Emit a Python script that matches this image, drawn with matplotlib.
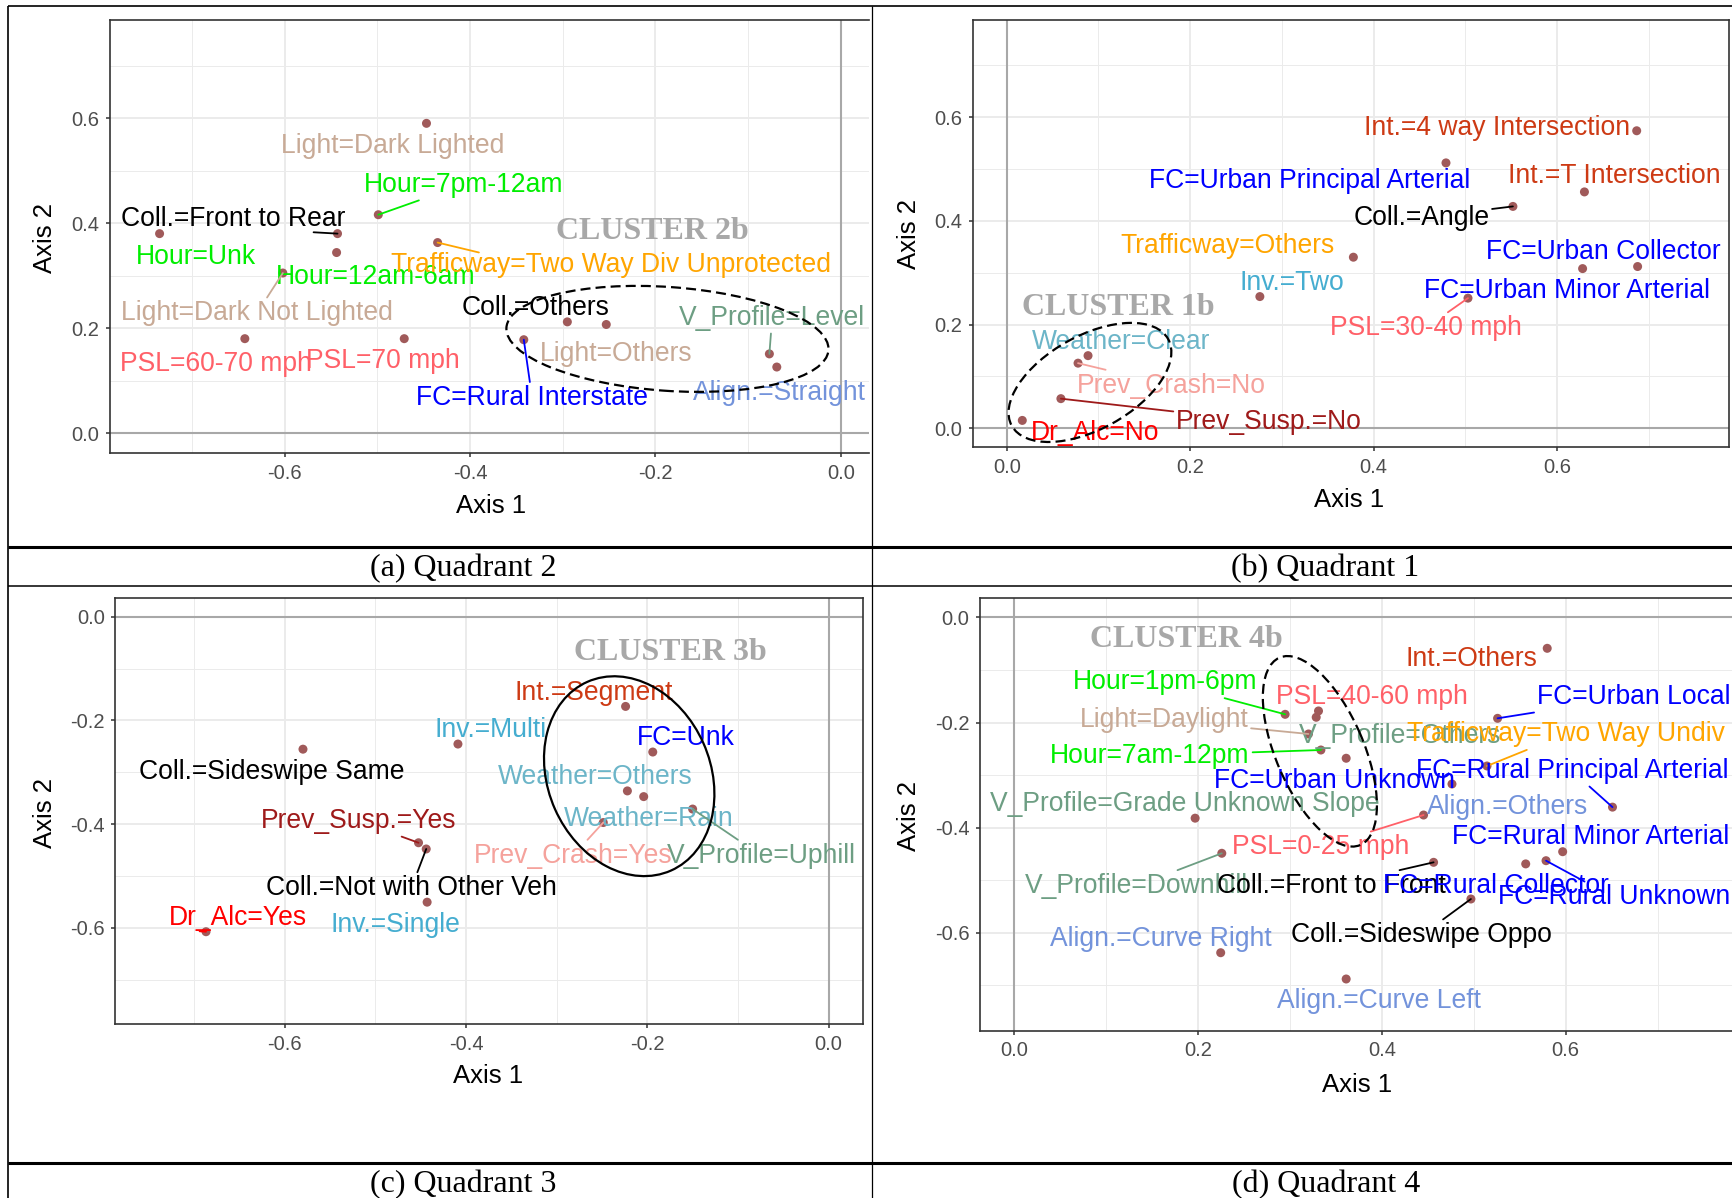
import matplotlib
matplotlib.use('Agg')
import matplotlib.pyplot as plt
import matplotlib.transforms as mtransforms
from matplotlib.patches import Ellipse
from matplotlib.lines import Line2D

# ---------------------------------------------------------------- data
# (a) Quadrant 2
a_labels = ["Light=Dark Lighted", "Hour=7pm-12am", "Coll.=Front to Rear", "Hour=Unk", "Hour=12am-6am",
            "Trafficway=Two Way Div Unprotected", "Light=Dark Not Lighted", "Coll.=Others", "Light=Others",
            "V_Profile=Level", "PSL=60-70 mph", "PSL=70 mph", "FC=Rural Interstate", "Align.=Straight"]
a_x = [-0.447, -0.499, -0.543, -0.735, -0.544, -0.435, -0.602, -0.295, -0.253, -0.077, -0.643, -0.471, -0.342, -0.069]
a_y = [0.590, 0.416, 0.380, 0.380, 0.344, 0.363, 0.305, 0.212, 0.207, 0.151, 0.180, 0.180, 0.178, 0.126]
a_lab_x = [-0.483, -0.407, -0.656, -0.696, -0.502, -0.248, -0.630, -0.329, -0.242, -0.074, -0.674, -0.494, -0.333, -0.066]
a_lab_y = [0.551, 0.478, 0.412, 0.341, 0.303, 0.324, 0.233, 0.243, 0.155, 0.2245, 0.137, 0.1415, 0.072, 0.082]
# leader segments: label -> None (clip at label box) or anchor (relative position on the label box)
a_leaders = {"Hour=7pm-12am": None, "Coll.=Front to Rear": (0.86, 0.0),
             "Trafficway=Two Way Div Unprotected": (0.2, 1.0),
             "Light=Dark Not Lighted": None, "FC=Rural Interstate": None, "V_Profile=Level": None}

# (b) Quadrant 1
b_labels = ["Int.=4 way Intersection", "FC=Urban Principal Arterial", "Int.=T Intersection", "Coll.=Angle",
            "Trafficway=Others", "FC=Urban Collector", "FC=Urban Minor Arterial", "Inv.=Two", "PSL=30-40 mph",
            "Weather=Clear", "Prev_Crash=No", "Prev_Susp.=No", "Dr_Alc=No"]
b_x = [0.687, 0.479, 0.630, 0.552, 0.378, 0.688, 0.628, 0.276, 0.503, 0.0886, 0.0777, 0.059, 0.0169]
b_y = [0.574, 0.512, 0.456, 0.428, 0.330, 0.312, 0.308, 0.254, 0.251, 0.140, 0.1255, 0.057, 0.015]
b_lab_x = [0.535, 0.330, 0.663, 0.452, 0.241, 0.651, 0.611, 0.311, 0.4566, 0.1247, 0.1795, 0.286, 0.0958]
b_lab_y = [0.584, 0.482, 0.491, 0.411, 0.357, 0.344, 0.270, 0.2855, 0.198, 0.172, 0.087, 0.016, -0.0055]
b_leaders = {"Coll.=Angle": None, "PSL=30-40 mph": None, "Prev_Crash=No": None, "Prev_Susp.=No": None}

# (c) Quadrant 3
c_labels = ["Int.=Segment", "FC=Unk", "Coll.=Sideswipe Same", "Inv.=Multi", "Weather=Others", "Weather=Rain",
            "V_Profile=Uphill", "Prev_Crash=Yes", "Prev_Susp.=Yes", "Coll.=Not with Other Veh",
            "Inv.=Single", "Dr_Alc=Yes"]
c_x = [-0.224, -0.194, -0.580, -0.409, -0.222, -0.204, -0.150, -0.2486, -0.4525, -0.444, -0.443, -0.687]
c_y = [-0.173, -0.261, -0.2555, -0.2456, -0.336, -0.347, -0.371, -0.397, -0.436, -0.448, -0.5506, -0.6076]
c_lab_x = [-0.2596, -0.158, -0.615, -0.3732, -0.257, -0.1987, -0.0744, -0.282, -0.519, -0.4604, -0.478, -0.6514]
c_lab_y = [-0.142, -0.2297, -0.294, -0.213, -0.304, -0.3856, -0.456, -0.456, -0.389, -0.5186, -0.589, -0.577]
c_leaders = {"V_Profile=Uphill": None, "Prev_Crash=Yes": None, "Prev_Susp.=Yes": None,
             "Coll.=Not with Other Veh": None, "Dr_Alc=Yes": (0.22, 0.0)}

# (d) Quadrant 4
d_labels = ["Int.=Others", "Hour=1pm-6pm", "PSL=40-60 mph", "V_Profile=Others", "Light=Daylight",
            "Hour=7am-12pm", "FC=Urban Unknown", "FC=Urban Local", "Trafficway=Two Way Undiv", "Align.=Others",
            "FC=Rural Principal Arterial", "PSL=0-25 mph", "V_Profile=Grade Unknown Slope", "V_Profile=Downhill",
            "Coll.=Front to Front", "FC=Rural Collector", "FC=Rural Unknown", "FC=Rural Minor Arterial",
            "Coll.=Sideswipe Oppo", "Align.=Curve Right", "Align.=Curve Left"]
d_x = [0.580, 0.2949, 0.3312, 0.3287, 0.3203, 0.3338, 0.3613, 0.526, 0.5145, 0.4764, 0.651, 0.4455,
       0.197, 0.226, 0.4564, 0.5566, 0.5787, 0.5968, 0.497, 0.2248, 0.3613]
d_y = [-0.0588, -0.1844, -0.178, -0.190, -0.2218, -0.2523, -0.268, -0.192, -0.2827, -0.317, -0.361, -0.376,
       -0.382, -0.4488, -0.466, -0.469, -0.4629, -0.4458, -0.5358, -0.638, -0.688]
d_lab_x = [0.498, 0.1647, 0.389, 0.4195, 0.163, 0.148, 0.3486, 0.6737, 0.6002, 0.5366, 0.6068, 0.3333,
           0.1861, 0.1328, 0.3448, 0.5244, 0.6523, 0.627, 0.4433, 0.1597, 0.397]
d_lab_y = [-0.0747, -0.119, -0.1463, -0.2213, -0.190, -0.2586, -0.3075, -0.1463, -0.2174, -0.357, -0.2871,
           -0.4328, -0.3506, -0.5063, -0.5063, -0.506, -0.528, -0.414, -0.600, -0.6075, -0.726]
d_leaders = {"Hour=1pm-6pm": None, "Light=Daylight": None, "Hour=7am-12pm": None, "FC=Urban Local": None,
             "Trafficway=Two Way Undiv": None, "FC=Rural Principal Arterial": None, "PSL=0-25 mph": None,
             "V_Profile=Downhill": None, "Coll.=Front to Front": None, "FC=Rural Unknown": None,
             "Coll.=Sideswipe Oppo": None}

captions = ["(a) Quadrant 2", "(b) Quadrant 1", "(c) Quadrant 3", "(d) Quadrant 4"]
clusters = ["CLUSTER 2b", "CLUSTER 1b", "CLUSTER 3b", "CLUSTER 4b"]

# ---------------------------------------------------------------- styles
COLORS = {
    "Light": "#C8AA96", "Hour": "#00EE00", "Coll.": "#000000", "Trafficway": "#FFA500",
    "PSL": "#FF6068", "FC": "#0000FF", "V_Profile": "#6D9E83", "Align.": "#7393DB",
    "Int.": "#CD3A14", "Inv.": "#45ADD0", "Weather": "#6CB5C8", "Prev_Crash": "#F5A29C",
    "Prev_Susp.": "#9E1A1A", "Dr_Alc": "#FF0000",
}
POINT_COLOR = "#A05A5A"
SANS = "Liberation Sans"
SERIF = "Liberation Serif"
LAB_FS = 19.1
DPI = 100
W, H = 1732, 1198

fig = plt.figure(figsize=(W / DPI, H / DPI), dpi=DPI)
fig.patch.set_facecolor("white")


def px_axes(l, r, t, b):
    return fig.add_axes([l / W, 1 - b / H, (r - l) / W, (b - t) / H])


def fmt(v):
    s = f"{v:.1f}"
    return "0.0" if s == "-0.0" else s


def setup(ax, xlim, ylim, xmaj, xmin, ymaj, ymin, xl_pos, yl_pos, hide_right=False):
    ax.set_xlim(*xlim)
    ax.set_ylim(*ylim)
    ax.set_xticks(xmaj)
    ax.set_xticklabels([fmt(v) for v in xmaj])
    ax.set_yticks(ymaj)
    ax.set_yticklabels([fmt(v) for v in ymaj])
    ax.set_xticks(xmin, minor=True)
    ax.set_yticks(ymin, minor=True)
    ax.grid(True, which="major", color="#EBEBEB", lw=1.4)
    ax.grid(True, which="minor", color="#EBEBEB", lw=0.7)
    ax.set_axisbelow(True)
    ax.tick_params(which="minor", length=0)
    ax.tick_params(which="major", length=3.2, width=1.1, color="#333333", labelsize=14.5,
                   labelcolor="#4D4D4D", pad=4.5)
    for lab in ax.get_xticklabels() + ax.get_yticklabels():
        lab.set_fontfamily(SANS)
    for s in ax.spines.values():
        s.set_color("#333333")
        s.set_linewidth(1.2)
    if hide_right:
        ax.spines["right"].set_visible(False)
    ax.axhline(0, color="#A8A8A8", lw=1.5, zorder=1.5)
    ax.axvline(0, color="#A8A8A8", lw=1.5, zorder=1.5)
    ax.set_xlabel("Axis 1", fontsize=18.5, fontfamily=SANS, va="center")
    ax.xaxis.set_label_coords(*xl_pos)
    ax.set_ylabel("Axis 2", fontsize=18.5, fontfamily=SANS, va="center")
    ax.yaxis.set_label_coords(*yl_pos)


def prefix(lab):
    return lab.split("=")[0]


def draw_points(ax, labels, xs, ys, lxs, lys, leaders):
    ax.scatter(xs, ys, s=42, c=POINT_COLOR, edgecolors="none", zorder=3)
    tr = mtransforms.offset_copy(ax.transData, fig=fig, x=0, y=-6.8, units="points")
    for lab, x, y, lx, ly in zip(labels, xs, ys, lxs, lys):
        col = COLORS[prefix(lab)]
        if lab in leaders:
            props = dict(arrowstyle="-", color=col, lw=1.3, shrinkA=0, shrinkB=0)
            anchor = leaders[lab]
            if anchor is not None:
                props["relpos"] = anchor
                props["patchA"] = None
            ax.annotate(lab, xy=(x, y), xycoords="data", xytext=(lx, ly), textcoords=tr,
                        ha="center", va="baseline", fontsize=LAB_FS, fontfamily=SANS, color=col,
                        clip_on=True, zorder=4, arrowprops=props)
        else:
            ax.text(lx, ly, lab, transform=tr, ha="center", va="baseline", fontsize=LAB_FS,
                    fontfamily=SANS, color=col, clip_on=True, zorder=4)


def cluster_text(ax, x, y, s):
    tr = mtransforms.offset_copy(ax.transData, fig=fig, x=0, y=-7.6, units="points")
    ax.text(x, y, s, transform=tr, ha="center", va="baseline", fontsize=23, fontweight="bold",
            fontfamily=SERIF, color="#A8A8A8", zorder=3.5, clip_on=True)


def ellipse(ax, cx, cy, a_px, b_px, ang, dashed=True):
    tr = fig.dpi_scale_trans + mtransforms.ScaledTranslation(cx, cy, ax.transData)
    e = Ellipse((0, 0), 2 * a_px / DPI, 2 * b_px / DPI, angle=ang, transform=tr, fill=False,
                ec="black", lw=1.6, ls=(0, (4.5, 2.3)) if dashed else "-", zorder=5)
    ax.add_patch(e)


# ---------------------------------------------------------------- panel (a)
axa = px_axes(110, 869, 20.4, 452.9)
setup(axa, (-0.7885, 0.0305), (-0.0375, 0.786), [-0.6, -0.4, -0.2, 0.0], [-0.7, -0.5, -0.3, -0.1],
      [0.0, 0.2, 0.4, 0.6], [0.1, 0.3, 0.5, 0.7], (0.5026, -0.1228), (-0.085, 0.498), hide_right=True)
cluster_text(axa, -0.2033, 0.3898, clusters[0])
draw_points(axa, a_labels, a_x, a_y, a_lab_x, a_lab_y, a_leaders)
ellipse(axa, -0.187, 0.1796, 161.4, 51.9, -4)

# ---------------------------------------------------------------- panel (b)
axb = px_axes(972.6, 1729.3, 20.4, 447.1)
setup(axb, (-0.0373, 0.788), (-0.0365, 0.787), [0.0, 0.2, 0.4, 0.6], [0.1, 0.3, 0.5, 0.7],
      [0.0, 0.2, 0.4, 0.6], [0.1, 0.3, 0.5, 0.7], (0.4978, -0.124), (-0.0839, 0.4996))
cluster_text(axb, 0.122, 0.239, clusters[1])
draw_points(axb, b_labels, b_x, b_y, b_lab_x, b_lab_y, b_leaders)
ellipse(axb, 0.0907, 0.0883, 89.4, 46.7, 29)

# ---------------------------------------------------------------- panel (c)
axc = px_axes(115.4, 863, 597.7, 1024.2)
setup(axc, (-0.787, 0.038), (-0.786, 0.0367), [-0.6, -0.4, -0.2, 0.0], [-0.7, -0.5, -0.3, -0.1],
      [-0.6, -0.4, -0.2, 0.0], [-0.7, -0.5, -0.3, -0.1], (0.4988, -0.1212), (-0.0935, 0.496))
cluster_text(axc, -0.1748, -0.0631, clusters[2])
draw_points(axc, c_labels, c_x, c_y, c_lab_x, c_lab_y, c_leaders)
ellipse(axc, -0.220, -0.3076, 103.2, 81.2, 113.9, dashed=False)

# ---------------------------------------------------------------- panel (d)
axd = px_axes(980.3, 1732, 597.7, 1030.5)
setup(axd, (-0.0367, 0.781), (-0.786, 0.0375), [0.0, 0.2, 0.4, 0.6], [0.1, 0.3, 0.5, 0.7],
      [-0.6, -0.4, -0.2, 0.0], [-0.7, -0.5, -0.3, -0.1], (0.5018, -0.1248), (-0.0947, 0.4945),
      hide_right=True)
cluster_text(axd, 0.1872, -0.0362, clusters[3])
draw_points(axd, d_labels, d_x, d_y, d_lab_x, d_lab_y, d_leaders)
ellipse(axd, 0.3327, -0.2548, 102, 43.9, 113.3)


# ---------------------------------------------------------------- table frame
def hline(y, x0, x1, lw):
    fig.add_artist(Line2D([x0 / W, x1 / W], [1 - y / H, 1 - y / H], transform=fig.transFigure,
                          color="black", lw=lw, solid_capstyle="butt"))


def vline(x, y0, y1, lw):
    fig.add_artist(Line2D([x / W, x / W], [1 - y0 / H, 1 - y1 / H], transform=fig.transFigure,
                          color="black", lw=lw, solid_capstyle="butt"))


hline(5.5, 8, W, 1.2)
vline(8, 5.5, H, 1.2)
vline(871.5, 5.5, H, 0.9)
hline(547, 8, W, 2.2)
hline(586, 8, W, 1.1)
hline(1162.5, 8, W, 2.2)

cap_pos = [(463, 569), (1325.5, 569), (463, 1184.5), (1326, 1184.5)]
for txt, (cx, cy) in zip(captions, cap_pos):
    fig.text(cx / W, 1 - cy / H, txt, ha="center", va="center", fontsize=23, fontfamily=SERIF)

fig.savefig("out.png", dpi=DPI, facecolor="white")
